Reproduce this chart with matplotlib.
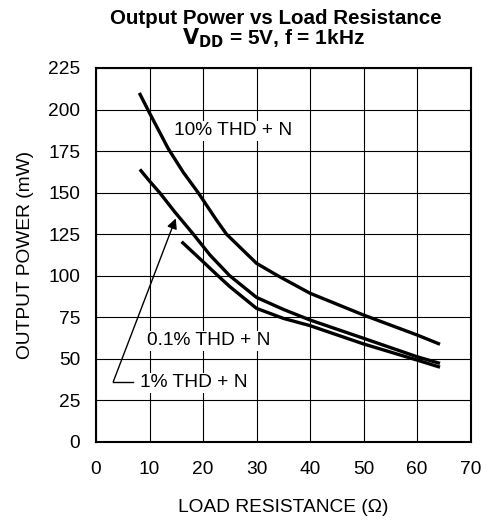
import matplotlib
matplotlib.use("Agg")
import matplotlib.pyplot as plt

plt.rcParams['font.family'] = ['Liberation Sans', 'DejaVu Sans']

# data
x_10 = [8.1, 10, 13.5, 16.3, 19.1, 22.5, 24.4, 30, 34, 40, 50, 60, 64.3]
y_10 = [210, 198, 176.5, 162.3, 150, 133.6, 125, 107.5, 100, 89.5, 76.4, 64.4, 58.8]

x_1 = [8.2, 10, 11.9, 14.7, 18.2, 21.3, 25.0, 30, 35, 40, 50, 60, 64.3]
y_1 = [164, 157, 150, 138.5, 125, 112.5, 100, 87, 79.8, 73.4, 62.4, 51.3, 47.3]

x_01 = [16.0, 20, 22.8, 25, 30, 35, 40, 50, 60, 64.3]
y_01 = [120.5, 108.5, 100, 93.5, 80.4, 74.4, 70.0, 59, 49.3, 45]

xticks = [0, 10, 20, 30, 40, 50, 60, 70]
yticks = [0, 25, 50, 75, 100, 125, 150, 175, 200, 225]

FS = 13.8

fig = plt.figure(figsize=(4.86, 5.20), dpi=100)
ax = fig.add_axes([96 / 486, 1 - 442 / 520, 374.5 / 486, 374 / 520])

for xs, ys in [(x_10, y_10), (x_1, y_1), (x_01, y_01)]:
    ax.plot(xs, ys, color='black', lw=2.4, solid_capstyle='butt',
            solid_joinstyle='round', zorder=3)

ax.set_xlim(0, 70)
ax.set_ylim(0, 225)
ax.set_xticks(xticks)
ax.set_yticks(yticks)
ax.grid(True, color='black', lw=0.8)
ax.tick_params(length=0, labelsize=FS)
ax.tick_params(axis='x', pad=13.5)
ax.tick_params(axis='y', pad=11.5)
for s in ax.spines.values():
    s.set_linewidth(1.5)

bbox = dict(facecolor='white', edgecolor='none', pad=1)
ax.text(14.55, 187.3, '10% THD + N', fontsize=FS, va='center', ha='left', bbox=bbox, zorder=4)
ax.text(9.46, 60.8, '0.1% THD + N', fontsize=FS, va='center', ha='left', bbox=bbox, zorder=4)
ax.text(8.2, 35.7, '1% THD + N', fontsize=FS, va='center', ha='left', bbox=bbox, zorder=4)

ax.plot([6.96, 3.23], [36.3, 36.3], color='black', lw=1.0, zorder=5)
ax.annotate('', xy=(14.9, 134.5), xytext=(3.23, 36.3),
            arrowprops=dict(arrowstyle='-|>', color='black', lw=1.0, mutation_scale=15,
                            shrinkA=0, shrinkB=0), zorder=5)

ax.set_xlabel('LOAD RESISTANCE (\u03a9)', fontsize=FS, labelpad=15)
ax.set_ylabel('OUTPUT POWER (mW)', fontsize=FS, labelpad=10)

fig.text(0.567, 1 - 24.5 / 520, 'Output Power vs Load Resistance', fontsize=14.8,
         fontweight='bold', ha='center', va='baseline')
fig.text(0.562, 1 - 44.5 / 520, '$\\mathbf{V_{DD}}$ = 5V, f = 1kHz', fontsize=15,
         fontweight='bold', ha='center', va='baseline')

fig.savefig('out.png', dpi=100)
